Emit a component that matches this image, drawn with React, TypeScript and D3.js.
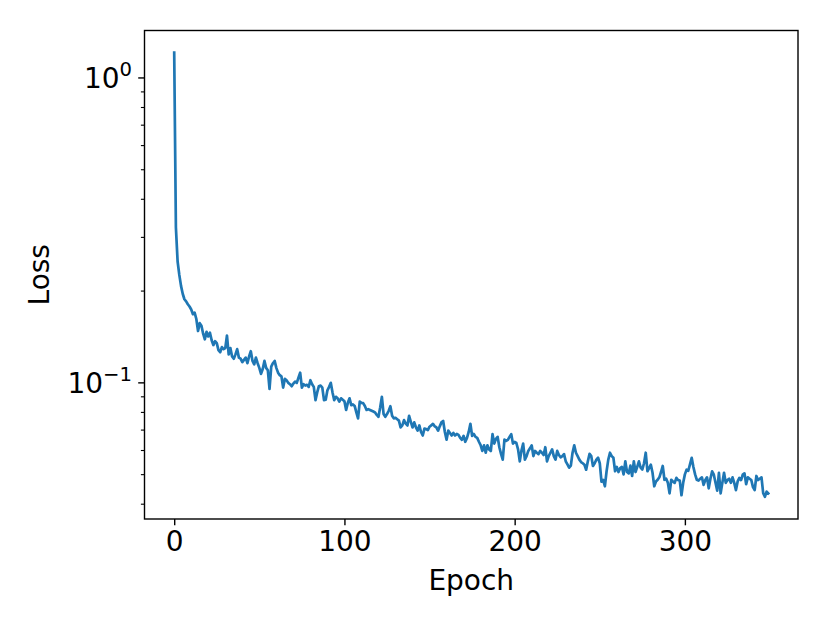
import React, { useEffect, useRef } from "react";
import * as d3 from "d3";

// training loss per epoch
const lossValues: number[] = [
  1.21, 0.323, 0.25, 0.226, 0.208, 0.196, 0.188, 0.185, 0.181, 0.178,
  0.174, 0.168, 0.17, 0.162, 0.148, 0.157, 0.154, 0.145, 0.139, 0.147,
  0.142, 0.146, 0.138, 0.133, 0.137, 0.135, 0.128, 0.126, 0.131, 0.129,
  0.13, 0.143, 0.124, 0.13, 0.122, 0.12, 0.124, 0.129, 0.121, 0.12,
  0.117, 0.119, 0.121, 0.116, 0.122, 0.127, 0.118, 0.115, 0.121, 0.116,
  0.112, 0.107, 0.111, 0.118, 0.112, 0.11, 0.0955, 0.113, 0.116, 0.118,
  0.112, 0.108, 0.106, 0.105, 0.0965, 0.103, 0.102, 0.1, 0.099, 0.0975,
  0.0995, 0.101, 0.1, 0.104, 0.108, 0.0965, 0.099, 0.098, 0.0985, 0.097,
  0.102, 0.099, 0.097, 0.0878, 0.093, 0.0975, 0.098, 0.0965, 0.0878, 0.088,
  0.0945, 0.097, 0.1, 0.093, 0.0878, 0.09, 0.089, 0.0868, 0.089, 0.088,
  0.087, 0.0815, 0.086, 0.089, 0.0845, 0.085, 0.084, 0.08, 0.0765, 0.0868,
  0.086, 0.0858, 0.084, 0.0815, 0.082, 0.0815, 0.081, 0.0805, 0.08, 0.0785,
  0.0774, 0.083, 0.09, 0.079, 0.0774, 0.079, 0.081, 0.0838, 0.078, 0.0765,
  0.0768, 0.076, 0.0752, 0.0714, 0.0725, 0.0755, 0.0735, 0.0725, 0.078, 0.0745,
  0.0714, 0.0742, 0.0715, 0.0697, 0.0725, 0.069, 0.0672, 0.0708, 0.0705, 0.07,
  0.0718, 0.0725, 0.0734, 0.072, 0.0715, 0.0697, 0.072, 0.0742, 0.075, 0.069,
  0.0651, 0.0697, 0.0685, 0.0672, 0.0685, 0.0672, 0.068, 0.0675, 0.066, 0.0651,
  0.067, 0.0641, 0.066, 0.069, 0.0734, 0.067, 0.068, 0.0665, 0.066, 0.0641,
  0.0625, 0.0598, 0.0624, 0.059, 0.0624, 0.0605, 0.0598, 0.0679, 0.0632, 0.0655,
  0.0665, 0.0615, 0.0585, 0.056, 0.0651, 0.0645, 0.065, 0.0665, 0.0679, 0.0632,
  0.064, 0.0635, 0.0605, 0.0553, 0.06, 0.0632, 0.056, 0.0575, 0.0598, 0.061,
  0.0624, 0.0575, 0.0598, 0.059, 0.0584, 0.0598, 0.059, 0.058, 0.0615, 0.0553,
  0.0575, 0.059, 0.0605, 0.0575, 0.056, 0.0598, 0.058, 0.057, 0.0575, 0.0584,
  0.0553, 0.054, 0.0527, 0.0535, 0.059, 0.0624, 0.059, 0.0575, 0.056, 0.055,
  0.0545, 0.0539, 0.0519, 0.0553, 0.0585, 0.0575, 0.0534, 0.0545, 0.056, 0.0568,
  0.0545, 0.0474, 0.048, 0.0458, 0.0513, 0.056, 0.059, 0.0575, 0.0568, 0.0513,
  0.053, 0.051, 0.0525, 0.053, 0.0501, 0.0553, 0.051, 0.0505, 0.0535, 0.0495,
  0.0553, 0.051, 0.053, 0.0553, 0.0527, 0.052, 0.0545, 0.059, 0.0513, 0.0525,
  0.0539, 0.0507, 0.0458, 0.0475, 0.0481, 0.049, 0.051, 0.0534, 0.0481, 0.0485,
  0.047, 0.0434, 0.0481, 0.0475, 0.047, 0.0488, 0.048, 0.0478, 0.0428, 0.047,
  0.0501, 0.0519, 0.0515, 0.054, 0.0568, 0.053, 0.0501, 0.0481, 0.0478, 0.0485,
  0.049, 0.0463, 0.048, 0.049, 0.0451, 0.0485, 0.0513, 0.05, 0.047, 0.0443,
  0.0507, 0.0434, 0.047, 0.0507, 0.047, 0.048, 0.0485, 0.047, 0.049, 0.047,
  0.0445, 0.0475, 0.0488, 0.048, 0.05, 0.0505, 0.0465, 0.049, 0.0485, 0.048,
  0.0455, 0.0445, 0.0495, 0.048, 0.0485, 0.049, 0.0435, 0.0423, 0.044, 0.0434,
];
const epochs = lossValues.map((_, i) => i);

const xTicks = [0, 100, 200, 300];
const yMajorTicks = [0.1, 1];
const yMajorLabels = [["10", "\u22121"], ["10", "0"]];
const yMinorTicks = [0.04, 0.05, 0.06, 0.07, 0.08, 0.09, 0.2, 0.3, 0.4, 0.5, 0.6, 0.7, 0.8, 0.9];

const W = 830;
const H = 623;
const FONT = "DejaVu Sans, sans-serif";
const FS = 28;

const LossChart = () => {
  const svgRef = useRef<SVGSVGElement>(null);

  useEffect(() => {
    const margin = { top: 30.5, right: 32, bottom: 104, left: 144.5 };
    const width = W - margin.left - margin.right;
    const height = H - margin.top - margin.bottom;

    const root = d3.select(svgRef.current);
    root.selectAll("*").remove();

    const svg = root
      .append("g")
      .attr("transform", `translate(${margin.left},${margin.top})`);

    // matplotlib-like 5% margins
    const [xMin, xMax] = d3.extent(epochs) as [number, number];
    const xPad = (xMax - xMin) * 0.05;
    const xScale = d3.scaleLinear().domain([xMin - xPad, xMax + xPad]).range([0, width]);

    const lMin = Math.log10(d3.min(lossValues) as number);
    const lMax = Math.log10(d3.max(lossValues) as number);
    const lPad = (lMax - lMin) * 0.05;
    const yScale = d3
      .scaleLog()
      .domain([Math.pow(10, lMin - lPad), Math.pow(10, lMax + lPad)])
      .range([height, 0]);

    // curva de pérdida
    const line = d3
      .line<number>()
      .x((_, i) => xScale(epochs[i]))
      .y((d) => yScale(d));

    svg
      .append("path")
      .datum(lossValues)
      .attr("fill", "none")
      .attr("stroke", "#1f77b4")
      .attr("stroke-width", 2.7)
      .attr("stroke-linejoin", "round")
      .attr("stroke-linecap", "square")
      .attr("d", line);

    // eje X
    const xAxis = svg
      .append("g")
      .attr("transform", `translate(0,${height})`)
      .call(d3.axisBottom(xScale).tickValues(xTicks).tickSize(6.3).tickPadding(5.5).tickFormat(d3.format("d")));
    xAxis.select(".domain").remove();
    xAxis.selectAll("line").attr("stroke", "#000").attr("stroke-width", 1.4);
    xAxis
      .selectAll("text")
      .attr("fill", "#000")
      .style("font-family", FONT)
      .style("font-size", `${FS}px`);

    // eje Y: minor ticks
    svg
      .append("g")
      .selectAll("line")
      .data(yMinorTicks)
      .enter()
      .append("line")
      .attr("x1", -3.6)
      .attr("x2", 0)
      .attr("y1", (d) => yScale(d))
      .attr("y2", (d) => yScale(d))
      .attr("stroke", "#000")
      .attr("stroke-width", 1.1);

    // eje Y: major ticks + labels 10^n
    const yMajor = svg
      .append("g")
      .selectAll("g")
      .data(yMajorTicks)
      .enter()
      .append("g")
      .attr("transform", (d) => `translate(0,${yScale(d)})`);

    yMajor
      .append("line")
      .attr("x1", -6.3)
      .attr("x2", 0)
      .attr("stroke", "#000")
      .attr("stroke-width", 1.4);

    const label = yMajor
      .append("text")
      .attr("x", -12.5)
      .attr("y", 10)
      .attr("text-anchor", "end")
      .attr("fill", "#000")
      .style("font-family", FONT)
      .style("font-size", `${FS}px`);
    label.append("tspan").text((_, i) => yMajorLabels[i][0]);
    label
      .append("tspan")
      .attr("dy", -12)
      .style("font-size", `${FS * 0.7}px`)
      .text((_, i) => yMajorLabels[i][1]);

    // marco
    svg
      .append("rect")
      .attr("width", width)
      .attr("height", height)
      .attr("fill", "none")
      .attr("stroke", "#000")
      .attr("stroke-width", 1.4);

    // títulos de ejes
    svg
      .append("text")
      .attr("x", width / 2)
      .attr("y", height + 71)
      .attr("text-anchor", "middle")
      .attr("fill", "#000")
      .style("font-family", FONT)
      .style("font-size", `${FS}px`)
      .text("Epoch");

    svg
      .append("text")
      .attr("transform", `translate(-96,${height / 2}) rotate(-90)`)
      .attr("text-anchor", "middle")
      .attr("fill", "#000")
      .style("font-family", FONT)
      .style("font-size", `${FS}px`)
      .text("Loss");
  }, []);

  return (
    <svg
      ref={svgRef}
      width={W}
      height={H}
      style={{ position: "absolute", left: 0, top: 0, background: "#fff" }}
    ></svg>
  );
};

export default function App() {
  return <LossChart />;
}
